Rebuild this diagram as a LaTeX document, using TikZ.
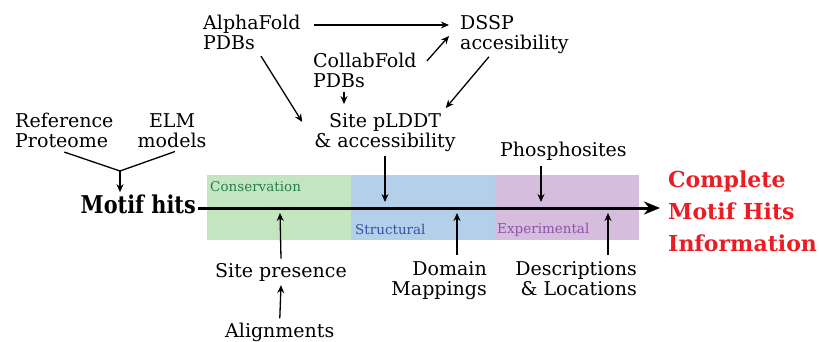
\documentclass[tikz,border=0pt]{standalone}
\usepackage{fontspec}
\setmainfont{DejaVu Serif}
\newfontfamily\narrowserif[FakeStretch=0.85]{DejaVu Serif}
\usetikzlibrary{arrows.meta,calc}
\definecolor{consfill}{RGB}{195,230,193}
\definecolor{strucfill}{RGB}{180,208,232}
\definecolor{expfill}{RGB}{212,189,221}
\definecolor{constext}{RGB}{34,128,72}
\definecolor{structext}{RGB}{52,82,172}
\definecolor{exptext}{RGB}{145,82,172}
\definecolor{hitred}{RGB}{236,28,36}
\tikzset{
  lbl/.style={inner sep=0pt, font=\fontsize{19}{20}\selectfont},
  bandlbl/.style={inner sep=0pt, anchor=base west, font=\fontsize{13.5}{14}\selectfont},
  arr/.style={-{Stealth[length=8pt,width=7pt]}, line width=1.3pt},
  mainarr/.style={-{Stealth[length=16pt,width=13pt]}, line width=3pt},
}
\begin{document}
\begin{tikzpicture}[x=1pt,y=-1pt]
  \useasboundingbox (0,0) rectangle (819,342);

  % bands
  \fill[consfill] (207,175) rectangle (351,240);
  \fill[strucfill] (351,175) rectangle (495,240);
  \fill[expfill] (495,175) rectangle (639,240);
  \node[bandlbl, text=constext] (cons) at (210,191) {Conservation};
  \node[bandlbl, text=structext] (struc) at (355,234) {Structural};
  \node[bandlbl, text=exptext] (expt) at (497,233) {Experimental};

  % sources
  \node[lbl, anchor=north west, align=left] (alpha) at (203,15) {AlphaFold\\PDBs};
  \node[lbl, anchor=north west, align=left] (dssp) at (460,15) {DSSP\\accesibility};
  \node[lbl, anchor=north west, align=left] (collab) at (313,53) {CollabFold\\PDBs};
  \node[lbl, anchor=north, align=center] (site) at (385,113) {Site pLDDT\\\& accessibility};
  \node[lbl, anchor=north west, align=left] (ref) at (15,113) {Reference\\Proteome};
  \node[lbl, anchor=north, align=center] (elm) at (172,113) {ELM\\models};
  \node[lbl, anchor=base west] (phos) at (500,157) {Phosphosites};
  \node[lbl, anchor=base west] (pres) at (215,277) {Site presence};
  \node[lbl, anchor=base west] (algn) at (225,337) {Alignments};
  \node[lbl, anchor=north east, align=right] (domain) at (487,261) {Domain\\Mappings};
  \node[lbl, anchor=north east, align=right] (desc) at (637,261) {Descriptions\\\& Locations};

  % timeline
  \node[inner sep=0pt, anchor=base east, font=\fontsize{24.5}{26}\narrowserif\bfseries] (hits) at (196,213) {Motif hits};
  \node[inner sep=0pt, anchor=north west, align=left, text=hitred,
        font=\fontsize{22}{32}\selectfont\bfseries] (full) at (668,171) {Complete\\Motif Hits\\Information};
  \coordinate (lineL) at (198,208);
  \coordinate (lineR) at (660,208);
  \draw[mainarr] (lineL) -- (lineR);

  \coordinate (merge) at (120,171);
  \coordinate (tgtSite) at (385,202);
  \coordinate (tgtPhos) at (541,202);
  \coordinate (tgtPres) at (280,213);
  \coordinate (tgtDom) at (457,213);
  \coordinate (tgtDesc) at (608,213);

  % structural inputs
  \draw[arr] ($(alpha.north east)+(13,10)$) -- ($(dssp.north west)+(-11,10)$);
  \draw[arr] ($(collab.north east)+(10,8)$) -- ($(dssp.north west)+(-11,21)$);
  \draw[arr] ($(collab.south west)+(31,4)$) -- ($(collab.south west)+(31,16)$);
  \draw[arr] ($(alpha.south west)+(58,6)$) -- ($(site.north west)+(-12,9)$);
  \draw[arr] ($(dssp.south west)+(29,3)$) -- ($(site.north east)+(-10,-5)$);
  \draw[arr] ($(site.south)+(0,4)$) -- (tgtSite);

  % motif hits
  \draw[line width=1.3pt] ($(ref.south)+(0,4)$) -- (merge) -- ($(elm.south)+(3,4)$);
  \draw[arr] (merge) -- ([yshift=2pt]merge |- hits.north);

  % other inputs
  \draw[arr] ([yshift=-5pt]phos.south -| tgtPhos) -- (tgtPhos);
  \draw[arr] ([yshift=4pt]pres.north) -- (tgtPres);
  \draw[arr] ([yshift=4pt]algn.north) -- ([yshift=-4pt]pres.south);
  \draw[arr] ([yshift=6pt]tgtDom |- domain.north) -- (tgtDom);
  \draw[arr] ([yshift=6pt]tgtDesc |- desc.north) -- (tgtDesc);
\end{tikzpicture}
\end{document}
